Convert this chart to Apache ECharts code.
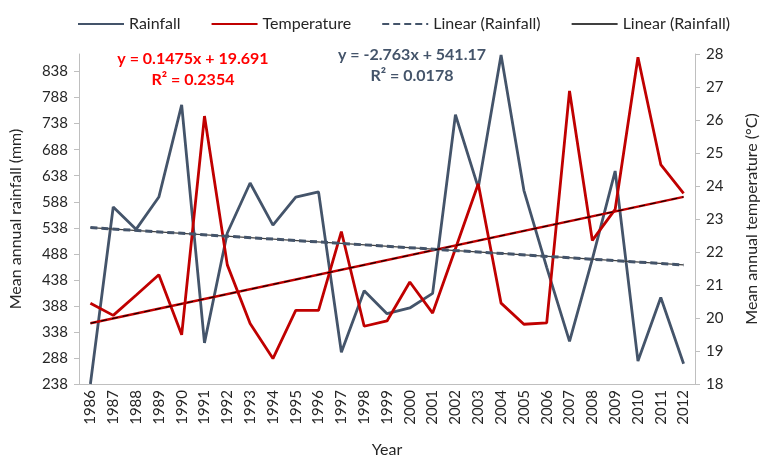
<!DOCTYPE html>
<html>
<head>
<meta charset="utf-8">
<script src="https://cdn.jsdelivr.net/npm/echarts@6/dist/echarts.min.js"></script>
<style>
  html, body { margin: 0; padding: 0; background: #fff; }
  #main { width: 768px; height: 463px; }
</style>
</head>
<body>
<div id="main"></div>
<script>
// data
var years = ['1986','1987','1988','1989','1990','1991','1992','1993','1994','1995','1996','1997','1998','1999',
             '2000','2001','2002','2003','2004','2005','2006','2007','2008','2009','2010','2011','2012'];
var rainfall = [238, 578, 535, 597, 774, 317, 528, 624, 543, 597, 607, 299, 417, 373,
                384, 412, 755, 615, 870, 610, 462, 320, 478, 647, 282, 404, 277];
var temperature = [20.45, 20.08, 20.69, 21.31, 19.49, 26.12, 21.61, 19.83, 18.77, 20.23, 20.23, 22.62, 19.75, 19.91,
                   21.09, 20.15, 22.1, 24.07, 20.45, 19.81, 19.85, 26.88, 22.35, 23.29, 27.9, 24.65, 23.78];
// trend line end points (1986, 2012)
var rainTrend = [538.4, 466.6];
var tempTrend = [19.84, 23.67];
var rainTicks = [238, 838];

var FONT = 'Lato';
var slate = '#44546A';
var red = '#C00000';

var myChart = echarts.init(document.getElementById('main'));

function ends(v) {
	return [[years[0], v[0]], [years[years.length - 1], v[1]]];
}

var option = {
	animation: false,
	textStyle: { fontFamily: FONT },
	legend: {
		left: 72,
		top: 11,
		itemWidth: 46,
		itemHeight: 14,
		itemGap: 30,
		itemStyle: { opacity: 0 },
		textStyle: { fontSize: 16, color: '#262626', fontFamily: FONT },
		data: ['Rainfall', 'Temperature', 'Linear (Rainfall)', 'Linear (Rainfall) ']
	},
	grid: { left: 77, right: 57, top: 54, bottom: 71 },
	xAxis: {
		type: 'category',
		data: years,
		boundaryGap: true,
		name: 'Year',
		nameLocation: 'middle',
		nameGap: 58,
		nameTextStyle: { fontSize: 16, color: '#262626' },
		axisLine: { lineStyle: { color: '#BFBFBF', width: 1 } },
		axisTick: { show: false },
		axisLabel: { rotate: 90, fontSize: 15, color: '#262626', margin: 6, interval: 0 }
	},
	yAxis: [{
		type: 'value',
		min: rainTicks[0],
		max: 871.75,
		interval: 50,
		name: 'Mean annual rainfall (mm)',
		nameLocation: 'middle',
		nameRotate: 90,
		nameGap: 55,
		nameTextStyle: { fontSize: 16, color: '#262626' },
		splitLine: { show: false },
		axisLine: { show: true, lineStyle: { color: '#BFBFBF' } },
		axisTick: { show: true, inside: false, length: 5, lineStyle: { color: '#BFBFBF' } },
		axisLabel: { fontSize: 15, color: '#262626', margin: 11, showMaxLabel: false }
	}, {
		type: 'value',
		min: 18,
		max: 28,
		interval: 1,
		name: 'Mean annual temperature (°C)',
		nameLocation: 'middle',
		nameRotate: 90,
		nameGap: 49,
		nameTextStyle: { fontSize: 16, color: '#262626' },
		splitLine: { show: false },
		axisLine: { show: true, lineStyle: { color: '#BFBFBF' } },
		axisTick: { show: true, inside: false, length: 5, lineStyle: { color: '#BFBFBF' } },
		axisLabel: { fontSize: 15, color: '#262626', margin: 11 }
	}],
	graphic: [{
		type: 'text', x: 193, y: 48,
		style: { text: 'y = 0.1475x + 19.691\nR² = 0.2354', fill: '#FF0000', font: 'bold 16px ' + FONT, align: 'center', lineHeight: 21 }
	}, {
		type: 'text', x: 412, y: 44,
		style: { text: 'y = -2.763x + 541.17\nR² = 0.0178', fill: slate, font: 'bold 16px ' + FONT, align: 'center', lineHeight: 21 }
	}],
	series: [{
		name: 'Rainfall',
		type: 'line',
		yAxisIndex: 0,
		data: rainfall,
		symbol: 'none',
		lineStyle: { color: slate, width: 2.8 },
		itemStyle: { color: slate },
		z: 3
	}, {
		name: 'Temperature',
		type: 'line',
		yAxisIndex: 1,
		data: temperature,
		symbol: 'none',
		lineStyle: { color: red, width: 2.8 },
		itemStyle: { color: red },
		z: 3
	}, {
		name: 'Linear (Rainfall) ',
		type: 'line',
		yAxisIndex: 0,
		data: ends(rainTrend),
		symbol: 'none',
		lineStyle: { color: '#404040', width: 1.2 },
		itemStyle: { color: '#404040' },
		z: 4
	}, {
		name: 'Linear (Rainfall)',
		type: 'line',
		yAxisIndex: 0,
		data: ends(rainTrend),
		symbol: 'none',
		lineStyle: { color: slate, width: 3, type: [7, 4] },
		itemStyle: { color: slate },
		z: 5
	}, {
		name: 'tempTrendBase',
		type: 'line',
		yAxisIndex: 1,
		data: ends(tempTrend),
		symbol: 'none',
		lineStyle: { color: red, width: 2.4 },
		z: 4
	}, {
		name: 'tempTrendDash',
		type: 'line',
		yAxisIndex: 1,
		data: ends(tempTrend),
		symbol: 'none',
		lineStyle: { color: '#000', width: 1, type: [6, 5] },
		z: 5
	}]
};

myChart.setOption(option);

window.addEventListener('resize', function() {
	myChart.resize();
});
</script>
</body>
</html>
